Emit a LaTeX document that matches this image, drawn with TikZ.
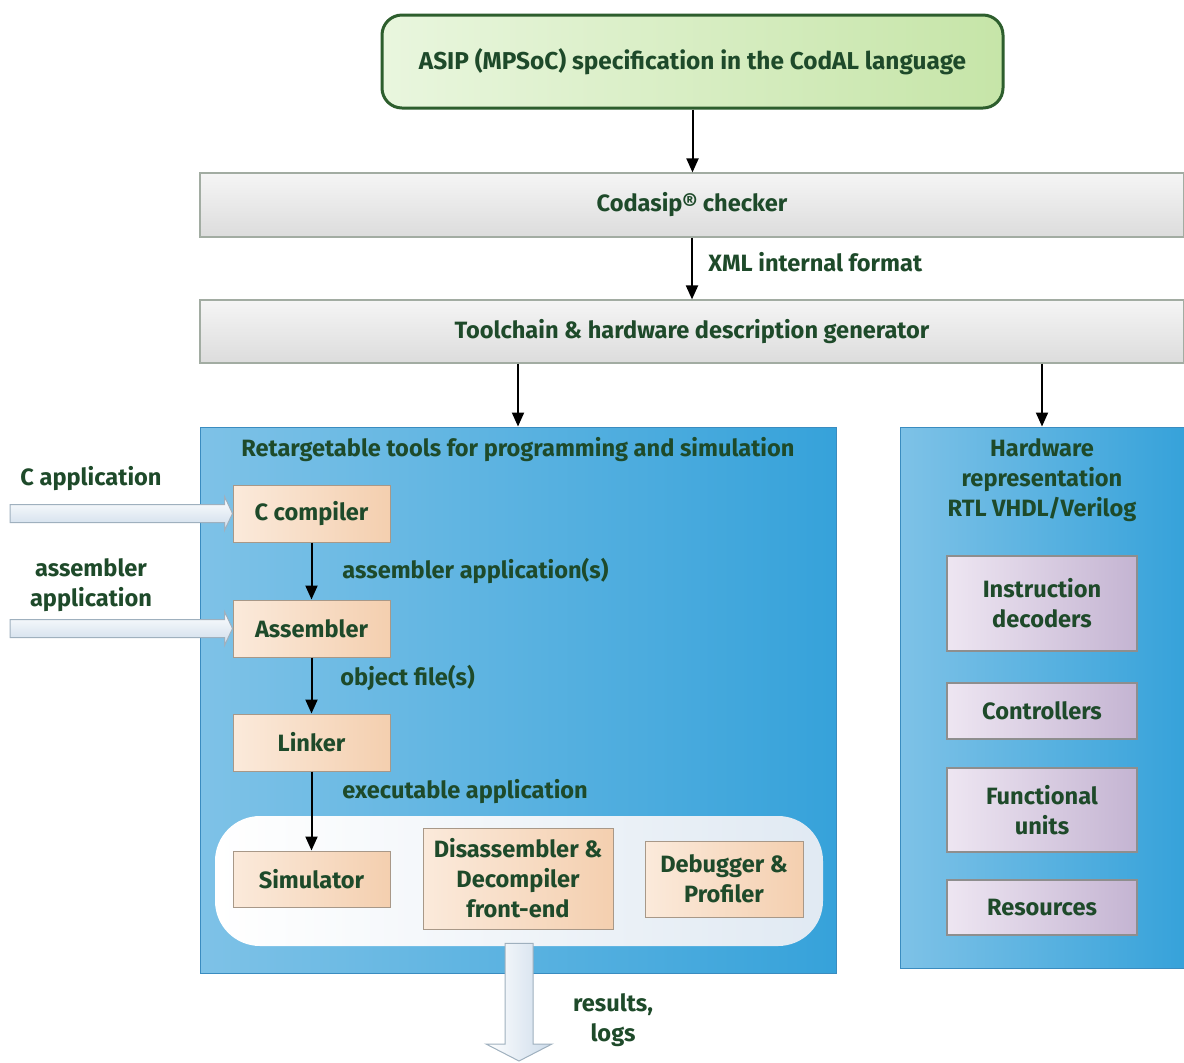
\documentclass[tikz,border=0pt]{standalone}
\usepackage{fontspec}
\setmainfont{Fira Sans}
\usetikzlibrary{arrows.meta,calc}
\definecolor{txt}{HTML}{1E4A2A}
\definecolor{specA}{HTML}{E9F6DE}
\definecolor{specB}{HTML}{C6E5A8}
\definecolor{specD}{HTML}{2D5E2D}
\definecolor{barA}{HTML}{F5F5F5}
\definecolor{barB}{HTML}{DCDCDC}
\definecolor{barD}{HTML}{A2ACA2}
\definecolor{blA}{HTML}{7EC2E7}
\definecolor{blB}{HTML}{36A2DA}
\definecolor{blD}{HTML}{3A8CC0}
\definecolor{peA}{HTML}{FBEADB}
\definecolor{peB}{HTML}{F4CFAF}
\definecolor{peD}{HTML}{A89888}
\definecolor{puA}{HTML}{EEE6F2}
\definecolor{puB}{HTML}{C4B4D2}
\definecolor{puD}{HTML}{8E8E8E}
\definecolor{arA}{HTML}{FFFFFF}
\definecolor{arB}{HTML}{CCDBEA}
\definecolor{arD}{HTML}{9FB0BE}
\begin{document}
\begin{tikzpicture}[x=0.5pt,y=-0.5pt,
  font=\fontsize{11.8}{15}\selectfont\bfseries, text=txt,
  spec/.style={draw=specD, line width=1.5pt, rounded corners=10pt, left color=specA, right color=specB, minimum width=310.5pt, minimum height=46.5pt},
  bar/.style={draw=barD, line width=0.6pt, top color=barA, bottom color=barB, minimum width=492pt},
  panel/.style={draw=blD, line width=0.5pt, left color=blA, right color=blB},
  tool/.style={draw=peD, line width=0.5pt, left color=peA, right color=peB, align=center, inner sep=0pt},
  hwbox/.style={draw=puD, line width=0.6pt, left color=puA, right color=puB, align=center, minimum width=95pt, inner sep=0pt},
  lbl/.style={align=center, inner sep=0pt},
  arr/.style={draw=black, line width=1pt, -{Triangle[length=7pt,width=6pt]}},
  blk/.style={draw=arD, line width=0.5pt, top color=arA, bottom color=arB},
]
\useasboundingbox (0,0) rectangle (1184,1062);
\clip (0,0) rectangle (1184,1062);

% top
\node[spec] (spec) at (692.5,61.5) {\fontsize{12.2}{15}\selectfont ASIP (MPSoC) specification in the CodAL language};
\node[bar, minimum height=32pt] (chk) at (692,205) {Codasip® checker};
\node[bar, minimum height=31.5pt] (gen) at (692,331.5) {Toolchain \& hardware description generator};

\draw[arr] (spec.south) -- (spec.south |- chk.north);
\draw[arr] (chk.south) -- (gen.north);
\node[lbl, anchor=west] (xml) at (708,262) {XML internal format};

% panels
\node[panel, minimum width=318pt, minimum height=273pt] (sw) at (518,700) {};
\node[panel, minimum width=142pt, minimum height=270.5pt] (hw) at (1042,697.5) {};
\draw[arr] (gen.south -| sw.north) -- (sw.north);
\draw[arr] (gen.south -| hw.north) -- (hw.north);

\node[lbl] (swt) at (518,450) {Retargetable tools for programming and simulation};
\node[lbl] (hwt) at (1042,480) {Hardware\\representation\\RTL VHDL/Verilog};

% white region
\node[rounded corners=22.5pt, left color=white, right color=arB!60, minimum width=304pt, minimum height=65pt] (wr) at (519,881) {};

% tools
\node[tool, minimum width=78.5pt, minimum height=28.5pt] (cc) at (311.5,513.5) {C compiler};
\node[tool, minimum width=78.5pt, minimum height=28.5pt] (asm) at (311.5,628.5) {Assembler};
\node[tool, minimum width=78.5pt, minimum height=28.5pt] (lnk) at (311.5,742.5) {Linker};
\node[tool, minimum width=78.5pt, minimum height=28pt] (sim) at (311.5,879) {Simulator};
\node[tool, minimum width=95pt, minimum height=50.5pt] (dis) at (518,878.5) {Disassembler \&\\Decompiler\\front-end};
\node[tool, minimum width=79pt, minimum height=38pt] (dbg) at (724,879) {Debugger \&\\Profiler};

\draw[arr] (cc.south) -- (asm.north);
\node[lbl, anchor=west] (l1) at (342,571) {assembler application(s)};
\draw[arr] (asm.south) -- (lnk.north);
\node[lbl, anchor=west] (l2) at (340,678) {object file(s)};
\draw[arr] (lnk.south) -- (sim.north);
\node[lbl, anchor=west] (l3) at (342,792) {executable application};

% hardware boxes
\node[hwbox, minimum height=47.5pt] (idec) at (1042,603.5) {Instruction\\decoders};
\node[hwbox, minimum height=28pt] (ctrl) at (1042,711) {Controllers};
\node[hwbox, minimum height=42pt] (func) at (1042,810) {Functional\\units};
\node[hwbox, minimum height=27.5pt] (res) at (1042,907.5) {Resources};

% inputs
\node[lbl] (capp) at (91,479) {C application};
\node[lbl] (aapp) at (91,585) {assembler\\application};
\coordinate (cin) at (10,513.5);
\coordinate (ain) at (10,628.5);
\draw[blk] ($(cin)+(0,-9)$) -- ($(cc.west)+(-8,-9)$) -- ($(cc.west)+(-8,-17)$) -- (cc.west)
  -- ($(cc.west)+(-8,17)$) -- ($(cc.west)+(-8,9)$) -- ($(cin)+(0,9)$) -- cycle;
\draw[blk] ($(ain)+(0,-9)$) -- ($(asm.west)+(-8,-9)$) -- ($(asm.west)+(-8,-17)$) -- (asm.west)
  -- ($(asm.west)+(-8,17)$) -- ($(asm.west)+(-8,9)$) -- ($(ain)+(0,9)$) -- cycle;

% output
\coordinate (out) at (519,1061);
\draw[blk, left color=arA, right color=arB] ($(wr.south)+(-14,-3)$) -- ($(out)+(-14,-17)$) -- ($(out)+(-33,-17)$) -- (out)
  -- ($(out)+(33,-17)$) -- ($(out)+(14,-17)$) -- ($(wr.south)+(14,-3)$) -- cycle;
\node[lbl] (rl) at (613,1020) {results,\\logs};
\end{tikzpicture}
\end{document}
